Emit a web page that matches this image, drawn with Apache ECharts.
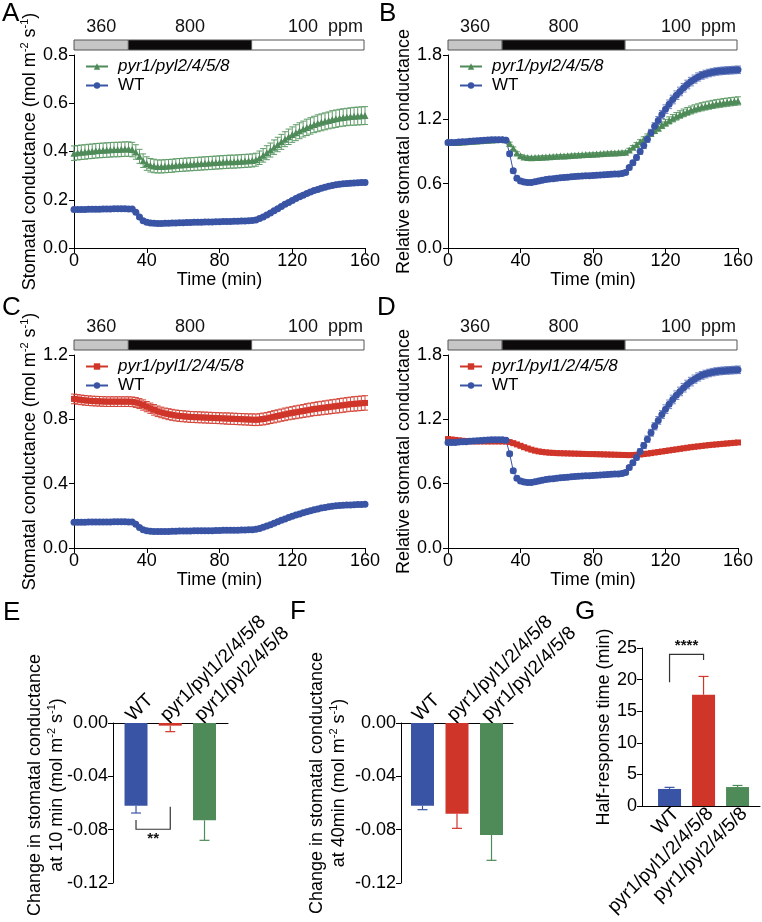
<!DOCTYPE html>
<html><head><meta charset="utf-8">
<script src="https://cdn.jsdelivr.net/npm/echarts@6/dist/echarts.min.js"></script>
<style>html,body{margin:0;padding:0;background:#fff}#c{width:762px;height:922px}</style>
</head><body><div id="c"></div>
<script>
// ---------------- DATA ----------------
const times = [0,2,4,6,8,10,12,14,16,18,20,22,24,26,28,30,32,34,36,38,40,42,44,46,48,50,52,54,56,58,60,62,64,66,68,70,72,74,76,78,80,82,84,86,88,90,92,94,96,98,100,102,104,106,108,110,112,114,116,118,120,122,124,126,128,130,132,134,136,138,140,142,144,146,148,150,152,154,156,158,160];

// WT, stomatal conductance (mol m-2 s-1)
const wtAbs = [0.160,0.160,0.160,0.160,0.161,0.161,0.161,0.161,0.162,0.162,0.162,0.163,0.163,0.163,0.163,0.162,0.162,
 0.148,0.128,0.113,0.107,0.104,0.103,0.102,0.102,0.103,
 0.103,0.104,0.104,0.105,0.105,0.106,0.106,0.107,0.107,0.107,0.108,0.108,0.108,0.109,0.109,0.110,0.110,0.110,0.111,0.111,0.112,0.112,0.113,0.114,
 0.116,0.122,0.129,0.137,0.145,0.154,0.163,0.172,0.181,0.189,0.197,0.205,0.212,0.219,0.226,0.232,0.238,0.243,0.248,0.252,0.256,0.259,0.262,0.264,0.266,0.267,0.268,0.269,0.270,0.271,0.272];
const wtAbsErr = [0.004,0.004,0.004,0.004,0.004,0.004,0.004,0.004,0.004,0.004,0.004,0.004,0.004,0.004,0.004,0.004,0.004,
 0.004,0.004,0.004,0.004,0.004,0.004,0.004,0.004,0.004,
 0.004,0.004,0.004,0.004,0.004,0.004,0.004,0.004,0.004,0.004,0.004,0.004,0.004,0.004,0.004,0.004,0.004,0.004,0.004,0.004,0.004,0.004,0.004,0.004,
 0.005,0.005,0.005,0.006,0.006,0.006,0.006,0.007,0.007,0.007,0.007,0.007,0.008,0.008,0.008,0.008,0.008,0.008,0.008,0.008,0.008,0.008,0.008,0.009,0.009,0.009,0.009,0.009,0.009,0.009,0.009];

// pyr1/pyl2/4/5/8, stomatal conductance
const grAbs = [0.393,0.395,0.397,0.398,0.400,0.401,0.403,0.404,0.405,0.406,0.407,0.408,0.408,0.409,0.410,0.410,0.408,
 0.398,0.380,0.362,0.350,0.343,0.340,0.338,0.338,0.339,
 0.340,0.341,0.343,0.344,0.345,0.346,0.347,0.348,0.349,0.350,0.351,0.352,0.353,0.354,0.355,0.356,0.357,0.358,0.358,0.359,0.360,0.361,0.362,0.363,
 0.366,0.374,0.384,0.395,0.406,0.418,0.429,0.440,0.451,0.461,0.470,0.478,0.486,0.493,0.500,0.506,0.512,0.517,0.521,0.525,0.529,0.533,0.536,0.539,0.541,0.543,0.545,0.546,0.547,0.548,0.549];
const grAbsErr = [0.030,0.030,0.030,0.030,0.030,0.030,0.030,0.030,0.030,0.030,0.030,0.030,0.030,0.030,0.030,0.030,0.030,
 0.030,0.029,0.028,0.028,0.028,0.028,0.027,0.027,0.027,
 0.027,0.027,0.027,0.027,0.027,0.027,0.027,0.027,0.027,0.027,0.027,0.027,0.027,0.027,0.027,0.027,0.027,0.027,0.027,0.027,0.027,0.027,0.027,0.027,
 0.027,0.028,0.028,0.029,0.029,0.030,0.030,0.031,0.031,0.032,0.032,0.033,0.033,0.033,0.034,0.034,0.034,0.035,0.035,0.035,0.035,0.036,0.036,0.036,0.036,0.036,0.036,0.037,0.037,0.037,0.037];

// WT, relative stomatal conductance
const wtRel = [0.985,0.985,0.985,0.988,0.990,0.992,0.995,0.998,1.000,1.003,1.005,1.008,1.010,1.010,1.010,1.010,1.005,
 0.880,0.720,0.650,0.625,0.615,0.610,0.612,0.618,0.625,
 0.632,0.638,0.643,0.647,0.651,0.655,0.658,0.661,0.664,0.667,0.669,0.671,0.673,0.675,0.677,0.679,0.681,0.683,0.685,0.687,0.689,0.691,0.695,0.705,
 0.750,0.795,0.845,0.900,0.955,1.015,1.075,1.135,1.190,1.245,1.295,1.340,1.385,1.425,1.460,1.495,1.525,1.552,1.575,1.595,1.610,1.622,1.632,1.640,1.646,1.650,1.653,1.656,1.658,1.660,1.662];
const wtRelErr = [0.015,0.015,0.015,0.015,0.015,0.015,0.015,0.015,0.015,0.015,0.015,0.015,0.015,0.015,0.015,0.015,0.015,
 0.020,0.020,0.020,0.020,0.020,0.020,0.020,0.020,0.020,
 0.020,0.020,0.020,0.020,0.020,0.020,0.020,0.020,0.020,0.020,0.020,0.020,0.020,0.020,0.020,0.020,0.020,0.020,0.020,0.020,0.020,0.020,0.020,0.020,
 0.020,0.022,0.024,0.026,0.028,0.030,0.032,0.034,0.036,0.038,0.040,0.040,0.040,0.040,0.040,0.040,0.040,0.040,0.038,0.038,0.036,0.036,0.035,0.035,0.035,0.035,0.035,0.035,0.035,0.035,0.035];

// pyr1/pyl2/4/5/8, relative stomatal conductance
const grRel = [0.990,0.988,0.985,0.985,0.988,0.990,0.993,0.995,0.998,1.000,1.003,1.005,1.008,1.010,1.012,1.012,1.010,
 0.975,0.930,0.885,0.860,0.848,0.843,0.842,0.843,0.845,
 0.847,0.849,0.851,0.853,0.855,0.857,0.859,0.861,0.863,0.865,0.867,0.869,0.871,0.873,0.875,0.877,0.879,0.881,0.883,0.885,0.887,0.889,0.891,0.893,
 0.915,0.940,0.965,0.990,1.015,1.040,1.068,1.095,1.120,1.145,1.168,1.190,1.210,1.228,1.245,1.260,1.274,1.287,1.298,1.308,1.317,1.325,1.332,1.339,1.345,1.350,1.355,1.360,1.364,1.368,1.372];
const grRelErr = [0.012,0.012,0.012,0.012,0.012,0.012,0.012,0.012,0.012,0.012,0.012,0.012,0.012,0.012,0.012,0.012,0.012,
 0.012,0.012,0.012,0.012,0.012,0.012,0.012,0.012,0.012,
 0.012,0.012,0.012,0.012,0.012,0.012,0.012,0.012,0.012,0.012,0.012,0.012,0.012,0.012,0.012,0.012,0.012,0.012,0.012,0.012,0.012,0.012,0.012,0.012,
 0.015,0.016,0.018,0.020,0.022,0.024,0.026,0.028,0.030,0.031,0.032,0.033,0.034,0.035,0.035,0.036,0.036,0.037,0.037,0.037,0.038,0.038,0.038,0.038,0.038,0.038,0.038,0.038,0.038,0.038,0.038];

// pyr1/pyl1/2/4/5/8, stomatal conductance
const rdAbs = [0.927,0.924,0.921,0.918,0.916,0.914,0.913,0.912,0.911,0.910,0.910,0.910,0.910,0.910,0.910,0.910,0.909,
 0.905,0.898,0.889,0.879,0.869,0.859,0.850,0.843,0.837,
 0.832,0.828,0.824,0.821,0.819,0.817,0.815,0.814,0.813,0.812,0.811,0.810,0.809,0.808,0.807,0.806,0.805,0.804,0.803,0.802,0.801,0.800,0.799,0.798,
 0.797,0.799,0.802,0.806,0.811,0.816,0.821,0.826,0.831,0.836,0.840,0.844,0.848,0.852,0.856,0.860,0.864,0.867,0.870,0.873,0.876,0.879,0.882,0.885,0.888,0.891,0.894,0.896,0.898,0.900,0.902];
const rdAbsErr = [0.030,0.030,0.030,0.030,0.030,0.030,0.030,0.030,0.030,0.030,0.030,0.030,0.030,0.030,0.030,0.030,0.030,
 0.031,0.031,0.032,0.032,0.032,0.033,0.033,0.033,0.033,
 0.034,0.034,0.034,0.034,0.034,0.034,0.034,0.034,0.034,0.034,0.034,0.034,0.034,0.034,0.034,0.034,0.035,0.035,0.035,0.035,0.035,0.035,0.035,0.036,
 0.036,0.036,0.037,0.037,0.037,0.038,0.038,0.038,0.039,0.039,0.039,0.040,0.040,0.040,0.041,0.041,0.041,0.042,0.042,0.042,0.043,0.043,0.043,0.044,0.044,0.044,0.044,0.045,0.045,0.045,0.045];

// pyr1/pyl1/2/4/5/8, relative stomatal conductance
const rdRel = [1.016,1.012,1.008,1.004,1.000,0.998,0.996,0.995,0.994,0.994,0.994,0.994,0.994,0.994,0.994,0.994,0.993,
 0.988,0.978,0.966,0.953,0.940,0.928,0.917,0.908,0.901,
 0.896,0.892,0.889,0.887,0.885,0.884,0.883,0.882,0.881,0.880,0.879,0.878,0.877,0.876,0.876,0.875,0.874,0.873,0.872,0.871,0.870,0.869,0.868,0.867,
 0.866,0.867,0.869,0.872,0.876,0.880,0.885,0.890,0.895,0.900,0.905,0.910,0.915,0.920,0.925,0.930,0.935,0.940,0.944,0.948,0.952,0.956,0.960,0.963,0.966,0.969,0.972,0.975,0.978,0.981,0.984];
const rdRelErr = [0.015,0.015,0.015,0.015,0.015,0.015,0.015,0.015,0.015,0.015,0.015,0.015,0.015,0.015,0.015,0.015,0.015,
 0.015,0.015,0.015,0.015,0.015,0.015,0.015,0.015,0.015,
 0.015,0.015,0.015,0.015,0.015,0.015,0.015,0.015,0.015,0.015,0.015,0.015,0.015,0.015,0.015,0.015,0.015,0.015,0.015,0.015,0.015,0.015,0.015,0.015,
 0.015,0.015,0.015,0.015,0.015,0.015,0.015,0.015,0.015,0.015,0.015,0.015,0.015,0.015,0.015,0.015,0.015,0.015,0.015,0.015,0.015,0.015,0.015,0.015,0.015,0.015,0.015,0.015,0.015,0.015,0.015];

// CO2 regime bar
const co2Start = [0, 30, 98];
const co2End = [30, 98, 160];
const co2Labels = ['360', '800', '100  ppm'];

// Bar panels
const cats = ['WT', 'pyr1/pyl1/2/4/5/8', 'pyr1/pyl2/4/5/8'];
const eVals = [-0.062, -0.002, -0.073];
const eErr = [0.0055, 0.0045, 0.015];
const fVals = [-0.062, -0.068, -0.084];
const fErr = [0.003, 0.011, 0.019];
const gVals = [2.7, 17.6, 3.0];
const gErr = [0.25, 2.9, 0.25];
// significance brackets: [fromCat, toCat, level, leftEnd, rightEnd]
const sigE = [0, 1, -0.0797, -0.0727, -0.0628];
const sigEText = '**';
const sigG = [0, 1, 24.0, 19.6, 23.1];
const sigGText = '****';

// ---------------- STYLE ----------------
const F = "'Liberation Sans', Arial, Helvetica, sans-serif";
const BLUE = '#3a54a5', GREEN = '#4e8b58', RED = '#d0352a';
const BLUE_E = '#6d82c2', GREEN_E = '#5f9c68', RED_E = '#d4463a';
const barColors = [BLUE, RED, GREEN];
const nameMap = {WT: 'WT', g: 'pyr1/pyl2/4/5/8', r: 'pyr1/pyl1/2/4/5/8'};

const chart = echarts.init(document.getElementById('c'), null, {renderer: 'canvas'});

const axisLineStyle = {color: '#000', width: 1};
const supRich = {
  a: {fontSize: 18, fontFamily: F, color: '#000', lineHeight: 22},
  s: {fontSize: 11, fontFamily: F, color: '#000', lineHeight: 22, verticalAlign: 'top'}
};

function timeX(g) {
  return {type: 'value', gridIndex: g, min: 0, max: 160, interval: 40,
    axisLine: {show: true, onZero: false, lineStyle: axisLineStyle},
    axisTick: {show: true, length: 5, lineStyle: axisLineStyle},
    axisLabel: {color: '#000', fontSize: 18, fontFamily: F, margin: 4},
    splitLine: {show: false},
    name: 'Time (min)', nameLocation: 'middle', nameGap: 19,
    nameTextStyle: {fontSize: 18, fontFamily: F, color: '#000'}};
}
function valY(g, max, interval, name, gap, digits) {
  return {type: 'value', gridIndex: g, min: 0, max: max, interval: interval,
    axisLine: {show: true, lineStyle: axisLineStyle},
    axisTick: {show: true, length: 5, lineStyle: axisLineStyle},
    axisLabel: {color: '#000', fontSize: 18, fontFamily: F, margin: 6,
      formatter: v => Math.abs(v) < 1e-9 ? (0).toFixed(digits) : v.toFixed(digits)},
    splitLine: {show: false},
    name: name, nameLocation: 'middle', nameGap: gap,
    nameTextStyle: {fontSize: 18, fontFamily: F, color: '#000', rich: supRich}};
}
function hiddenX(g) { return {type: 'value', gridIndex: g, min: 0, max: 160, show: false}; }
function hiddenY(g) { return {type: 'value', gridIndex: g, min: 0, max: 1, show: false}; }

function lineSeries(name, ai, ys, color, symbol, size) {
  return {type: 'line', name: name, xAxisIndex: ai, yAxisIndex: ai,
    data: times.map((t, i) => [t, ys[i]]), symbol: symbol, symbolSize: size,
    showAllSymbol: true, itemStyle: {color: color}, lineStyle: {color: color, width: 1},
    z: 4, animation: false};
}
function errSeries(ai, ys, es, color, cap) {
  return {type: 'custom', xAxisIndex: ai, yAxisIndex: ai, silent: true, z: 3,
    data: times.map((t, i) => [t, ys[i], es[i]]),
    encode: {x: 0, y: 1},
    renderItem: function (params, api) {
      const x = api.value(0), y = api.value(1), e = api.value(2);
      const hi = api.coord([x, y + e]), lo = api.coord([x, y - e]);
      const st = {stroke: color, lineWidth: 1};
      return {type: 'group', children: [
        {type: 'line', shape: {x1: hi[0], y1: hi[1], x2: lo[0], y2: lo[1]}, style: st},
        {type: 'line', shape: {x1: hi[0] - cap, y1: hi[1], x2: hi[0] + cap, y2: hi[1]}, style: st},
        {type: 'line', shape: {x1: lo[0] - cap, y1: lo[1], x2: lo[0] + cap, y2: lo[1]}, style: st}
      ]};
    }};
}
const co2Fill = ['#c6c6c6', '#0c0a0a', '#ffffff'];
function co2Series(ai) {
  return {type: 'custom', xAxisIndex: ai, yAxisIndex: ai, silent: true, z: 5,
    data: co2Start.map((s, i) => [s, co2End[i]]),
    encode: {x: [0, 1]},
    renderItem: function (params, api) {
      const i = params.dataIndex;
      const p0 = api.coord([api.value(0), 1]), p1 = api.coord([api.value(1), 0]);
      return {type: 'group', children: [
        {type: 'rect', shape: {x: p0[0], y: p0[1], width: p1[0] - p0[0], height: p1[1] - p0[1]},
          style: {fill: co2Fill[i], stroke: '#555', lineWidth: 1}},
        {type: 'text', style: {text: co2Labels[i], x: i < 2 ? (p0[0] + p1[0]) / 2 : p1[0] - 1,
          y: p0[1] - 4, align: i < 2 ? 'center' : 'right', verticalAlign: 'bottom',
          fontSize: 18, fontFamily: F, fill: '#111'}}
      ]};
    }};
}
function catX(g, min, max, pos, rot, margin, valign) {
  return {type: 'value', gridIndex: g, min: min, max: max, position: pos,
    axisLine: {show: true, onZero: false, lineStyle: axisLineStyle},
    axisTick: {show: false}, splitLine: {show: false},
    axisLabel: {customValues: [0, 1, 2], formatter: v => cats[Math.round(v)] || '',
      rotate: rot, fontSize: 19, fontFamily: F, color: '#000', margin: margin, verticalAlign: valign}};
}
function barY(g, min, max, interval, digits) {
  return {type: 'value', gridIndex: g, min: min, max: max, interval: interval,
    axisLine: {show: true, onZero: false, lineStyle: axisLineStyle},
    axisTick: {show: true, length: 5, lineStyle: axisLineStyle},
    splitLine: {show: false},
    axisLabel: {fontSize: 18, fontFamily: F, color: '#000', margin: 5,
      formatter: v => Math.abs(v) < 1e-9 ? (0).toFixed(digits) : v.toFixed(digits)}};
}
function barSeries(ai, vals) {
  return {type: 'bar', xAxisIndex: ai, yAxisIndex: ai, barWidth: 23, z: 3,
    data: vals.map((v, i) => ({value: [i, v], itemStyle: {color: barColors[i]}}))};
}
function barErrSeries(ai, vals, errs) {
  return {type: 'custom', xAxisIndex: ai, yAxisIndex: ai, silent: true, z: 2,
    data: vals.map((v, i) => [i, v, errs[i]]),
    encode: {x: 0, y: 1},
    renderItem: function (params, api) {
      const x = api.value(0), v = api.value(1), e = api.value(2);
      const end = v < 0 ? v - e : v + e;
      const a = api.coord([x, v]), b = api.coord([x, end]);
      const st = {stroke: barColors[params.dataIndex], lineWidth: 1.2};
      return {type: 'group', children: [
        {type: 'line', shape: {x1: a[0], y1: a[1], x2: b[0], y2: b[1]}, style: st},
        {type: 'line', shape: {x1: b[0] - 5, y1: b[1], x2: b[0] + 5, y2: b[1]}, style: st}
      ]};
    }};
}
function sigSeries(ai, sig, text, below) {
  return {type: 'custom', xAxisIndex: ai, yAxisIndex: ai, silent: true, z: 4,
    data: [sig],
    renderItem: function (params, api) {
      const x1 = api.value(0), x2 = api.value(1), lv = api.value(2), l = api.value(3), r = api.value(4);
      const p1 = api.coord([x1, l]), p2 = api.coord([x1, lv]), p3 = api.coord([x2, lv]), p4 = api.coord([x2, r]);
      return {type: 'group', children: [
        {type: 'polyline', shape: {points: [p1, p2, p3, p4]}, style: {stroke: '#333', lineWidth: 1.2, fill: null}},
        {type: 'text', style: {text: text, x: (p2[0] + p3[0]) / 2, y: below ? p2[1] + 2 : p2[1] - 1,
          align: 'center', verticalAlign: below ? 'top' : 'bottom', fontSize: 15, fontFamily: F, fill: '#111', fontWeight: 'bold'}}
      ]};
    }};
}
function legend(left, top, mutant) {
  return {left: left, top: top, orient: 'vertical', itemWidth: 22, itemHeight: 8, itemGap: 2,
    data: [mutant, 'WT'], selectedMode: false,
    formatter: n => n === 'WT' ? '{n|WT}' : '{i|' + n + '}',
    textStyle: {fontSize: 17, fontFamily: F, color: '#000',
      rich: {i: {fontSize: 17, fontFamily: F, fontStyle: 'italic', color: '#000', padding: [0, 0, 0, 5]},
             n: {fontSize: 17, fontFamily: F, color: '#000', padding: [0, 0, 0, 5]}}}};
}

const yNameAbs = '{a|Stomatal conductance (mol m}{s|-2}{a| s}{s|-1}{a|)}';
const yNameRel = 'Relative stomatal conductance';

const option = {
  animation: false,
  backgroundColor: '#fff',
  textStyle: {fontFamily: F},
  grid: [
    {left: 74, top: 55, width: 291, height: 193},
    {left: 448, top: 55, width: 290, height: 193},
    {left: 74, top: 355, width: 291, height: 193},
    {left: 448, top: 355, width: 290, height: 193},
    {left: 113, top: 723, width: 115, height: 160},
    {left: 401, top: 723, width: 112, height: 160},
    {left: 642, top: 648, width: 118, height: 158},
    {left: 74, top: 40, width: 290, height: 10},
    {left: 448, top: 40, width: 289, height: 10},
    {left: 74, top: 340, width: 290, height: 10},
    {left: 448, top: 340, width: 289, height: 10}
  ],
  xAxis: [timeX(0), timeX(1), timeX(2), timeX(3),
    catX(4, -0.672, 2.686, 'top', -45, -2, 'bottom'), catX(5, -0.623, 2.623, 'top', -45, -2, 'bottom'),
    catX(6, -0.81, 2.66, 'bottom', 45, -2, 'top'),
    hiddenX(7), hiddenX(8), hiddenX(9), hiddenX(10)],
  yAxis: [valY(0, 0.8, 0.2, yNameAbs, 25, 1), valY(1, 1.8, 0.6, yNameRel, 25, 1),
    valY(2, 1.2, 0.4, yNameAbs, 25, 1), valY(3, 1.8, 0.6, yNameRel, 25, 1),
    barY(4, -0.12, 0, 0.04, 2), barY(5, -0.12, 0, 0.04, 2),
    Object.assign(barY(6, 0, 25, 5, 0), {name: 'Half-response time (min)', nameLocation: 'middle', nameGap: 28,
      nameTextStyle: {fontSize: 18, fontFamily: F, color: '#000'}}),
    hiddenY(7), hiddenY(8), hiddenY(9), hiddenY(10)],
  legend: [legend(80, 53, nameMap.g), legend(454, 53, nameMap.g), legend(80, 353, nameMap.r), legend(454, 353, nameMap.r)],
  series: [
    errSeries(0, grAbs, grAbsErr, GREEN_E, 3), lineSeries(nameMap.g, 0, grAbs, GREEN, 'triangle', 7),
    errSeries(0, wtAbs, wtAbsErr, BLUE_E, 3), lineSeries('WT', 0, wtAbs, BLUE, 'circle', 7),
    errSeries(1, grRel, grRelErr, GREEN_E, 3), lineSeries(nameMap.g, 1, grRel, GREEN, 'triangle', 7),
    errSeries(1, wtRel, wtRelErr, BLUE_E, 3), lineSeries('WT', 1, wtRel, BLUE, 'circle', 7),
    errSeries(2, rdAbs, rdAbsErr, RED_E, 3), lineSeries(nameMap.r, 2, rdAbs, RED, 'rect', 6),
    errSeries(2, wtAbs, wtAbsErr, BLUE_E, 3), lineSeries('WT', 2, wtAbs, BLUE, 'circle', 7),
    errSeries(3, rdRel, rdRelErr, RED_E, 3), lineSeries(nameMap.r, 3, rdRel, RED, 'rect', 6),
    errSeries(3, wtRel, wtRelErr, BLUE_E, 3), lineSeries('WT', 3, wtRel, BLUE, 'circle', 7),
    barErrSeries(4, eVals, eErr), barSeries(4, eVals), sigSeries(4, sigE, sigEText, true),
    barErrSeries(5, fVals, fErr), barSeries(5, fVals),
    barErrSeries(6, gVals, gErr), barSeries(6, gVals), sigSeries(6, sigG, sigGText, false),
    co2Series(7), co2Series(8), co2Series(9), co2Series(10)
  ],
  graphic: [
    {type: 'text', left: 2, top: 1, style: {text: 'A', fontSize: 26, fontFamily: F, fill: '#000'}},
    {type: 'text', left: 379, top: 1, style: {text: 'B', fontSize: 26, fontFamily: F, fill: '#000'}},
    {type: 'text', left: 2, top: 295, style: {text: 'C', fontSize: 26, fontFamily: F, fill: '#000'}},
    {type: 'text', left: 377, top: 295, style: {text: 'D', fontSize: 26, fontFamily: F, fill: '#000'}},
    {type: 'text', left: 3, top: 600, style: {text: 'E', fontSize: 26, fontFamily: F, fill: '#000'}},
    {type: 'text', left: 290, top: 599, style: {text: 'F', fontSize: 26, fontFamily: F, fill: '#000'}},
    {type: 'text', left: 575, top: 599, style: {text: 'G', fontSize: 26, fontFamily: F, fill: '#000'}},
    {type: 'text', x: 46, y: 785, rotation: Math.PI / 2,
      style: {text: '{a|Change in stomatal conductance}\n{a|at 10 min (mol m}{s|-2}{a| s}{s|-1}{a|)}',
        rich: supRich, align: 'center', verticalAlign: 'middle', fontSize: 18, fontFamily: F, fill: '#000'}},
    {type: 'text', x: 328, y: 783, rotation: Math.PI / 2,
      style: {text: '{a|Change in stomatal conductance}\n{a|at 40min (mol m}{s|-2}{a| s}{s|-1}{a|)}',
        rich: supRich, align: 'center', verticalAlign: 'middle', fontSize: 18, fontFamily: F, fill: '#000'}}
  ]
};
chart.setOption(option);
</script>
</body></html>
